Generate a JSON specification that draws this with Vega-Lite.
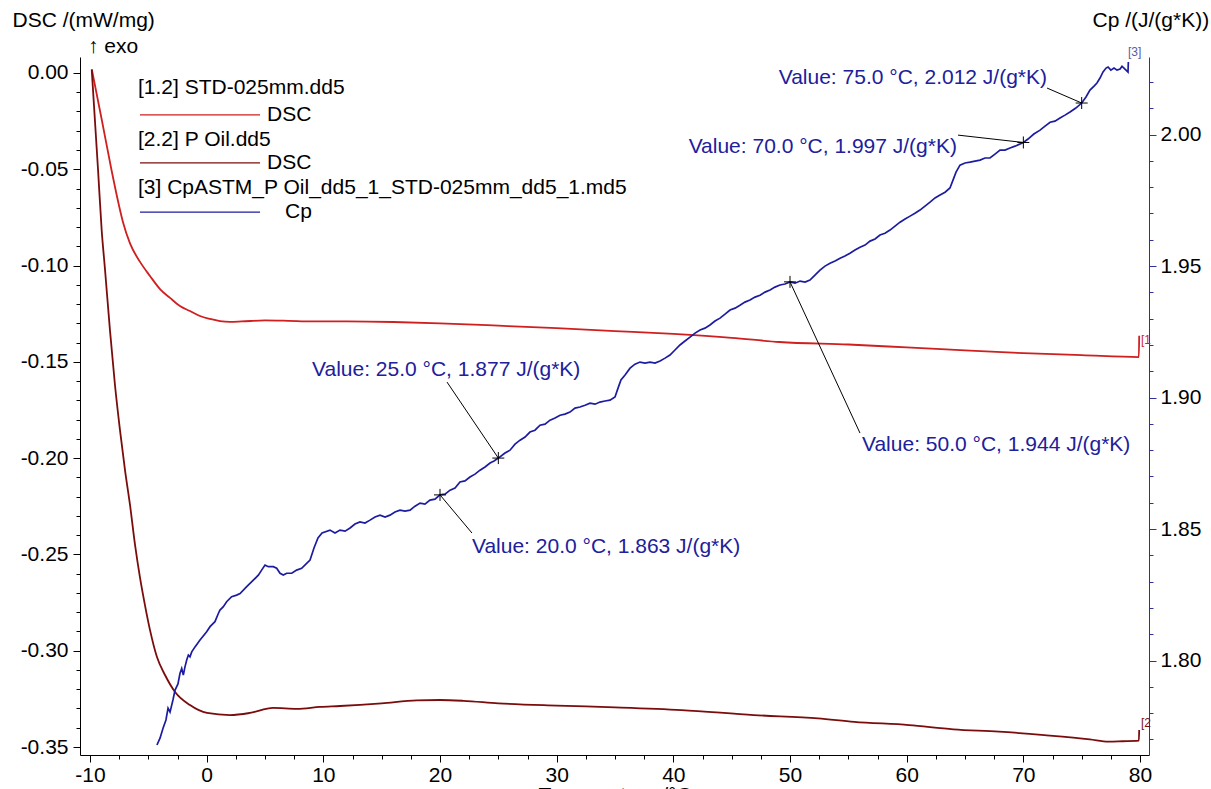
{
  "$schema": "https://vega.github.io/schema/vega-lite/v6.json",
  "width": 1069,
  "height": 698,
  "autosize": {"type": "none"},
  "padding": {"left": 80, "top": 57, "right": 62, "bottom": 34},
  "background": "white",
  "config": {
    "view": {"stroke": null},
    "font": "Liberation Sans",
    "axis": {"labelFont": "Liberation Sans", "labelFontSize": 21, "labelColor": "black", "titleFont": "Liberation Sans", "titleFontSize": 21, "titleFontWeight": "normal", "titleColor": "black", "grid": false, "domainColor": "black", "tickColor": "black", "labelOverlap": false, "labelFlush": false}
  },
  "datasets": {
    "dsc": [
      {"series": "STD", "t": -9.85, "v": 0.002}, {"series": "STD", "t": -9.0, "v": -0.024}, {"series": "STD", "t": -8.17, "v": -0.05}, {"series": "STD", "t": -7.6, "v": -0.0665}, {"series": "STD", "t": -7.17, "v": -0.0775}, {"series": "STD", "t": -6.57, "v": -0.0885}, {"series": "STD", "t": -5.71, "v": -0.0981}, {"series": "STD", "t": -4.86, "v": -0.1054}, {"series": "STD", "t": -4.0, "v": -0.1122}, {"series": "STD", "t": -3.14, "v": -0.1168}, {"series": "STD", "t": -2.29, "v": -0.121}, {"series": "STD", "t": -1.43, "v": -0.1236}, {"series": "STD", "t": -0.57, "v": -0.1262}, {"series": "STD", "t": 0.29, "v": -0.1277}, {"series": "STD", "t": 1.14, "v": -0.1288}, {"series": "STD", "t": 2.0, "v": -0.1292}, {"series": "STD", "t": 3.0, "v": -0.129}, {"series": "STD", "t": 5.0, "v": -0.1285}, {"series": "STD", "t": 7.0, "v": -0.1287}, {"series": "STD", "t": 9.0, "v": -0.129}, {"series": "STD", "t": 12.0, "v": -0.129}, {"series": "STD", "t": 16.0, "v": -0.1293}, {"series": "STD", "t": 20.0, "v": -0.13}, {"series": "STD", "t": 25.0, "v": -0.1312}, {"series": "STD", "t": 30.0, "v": -0.1325}, {"series": "STD", "t": 35.0, "v": -0.134}, {"series": "STD", "t": 40.0, "v": -0.1355}, {"series": "STD", "t": 45.0, "v": -0.1375}, {"series": "STD", "t": 49.1, "v": -0.1397}, {"series": "STD", "t": 55.0, "v": -0.141}, {"series": "STD", "t": 60.0, "v": -0.1425}, {"series": "STD", "t": 65.0, "v": -0.144}, {"series": "STD", "t": 70.0, "v": -0.1455}, {"series": "STD", "t": 75.0, "v": -0.1465}, {"series": "STD", "t": 79.9, "v": -0.1475}, {"series": "STD", "t": 79.93, "v": -0.1365},
      {"series": "POil", "t": -9.85, "v": 0.0016}, {"series": "POil", "t": -9.31, "v": -0.0504}, {"series": "POil", "t": -9.0, "v": -0.0815}, {"series": "POil", "t": -8.71, "v": -0.1023}, {"series": "POil", "t": -8.29, "v": -0.1335}, {"series": "POil", "t": -7.86, "v": -0.162}, {"series": "POil", "t": -7.43, "v": -0.1854}, {"series": "POil", "t": -7.0, "v": -0.2062}, {"series": "POil", "t": -6.57, "v": -0.2243}, {"series": "POil", "t": -6.14, "v": -0.2451}, {"series": "POil", "t": -5.71, "v": -0.2622}, {"series": "POil", "t": -5.29, "v": -0.2763}, {"series": "POil", "t": -4.86, "v": -0.2892}, {"series": "POil", "t": -4.26, "v": -0.3033}, {"series": "POil", "t": -3.57, "v": -0.3126}, {"series": "POil", "t": -2.71, "v": -0.3214}, {"series": "POil", "t": -1.43, "v": -0.3282}, {"series": "POil", "t": 0.03, "v": -0.3323}, {"series": "POil", "t": 2.0, "v": -0.3334}, {"series": "POil", "t": 3.71, "v": -0.3323}, {"series": "POil", "t": 5.69, "v": -0.3297}, {"series": "POil", "t": 7.74, "v": -0.3302}, {"series": "POil", "t": 9.71, "v": -0.3292}, {"series": "POil", "t": 11.43, "v": -0.3287}, {"series": "POil", "t": 15.0, "v": -0.3273}, {"series": "POil", "t": 18.0, "v": -0.3258}, {"series": "POil", "t": 20.0, "v": -0.3256}, {"series": "POil", "t": 22.0, "v": -0.326}, {"series": "POil", "t": 25.0, "v": -0.3273}, {"series": "POil", "t": 30.0, "v": -0.3285}, {"series": "POil", "t": 35.0, "v": -0.3294}, {"series": "POil", "t": 40.7, "v": -0.3308}, {"series": "POil", "t": 46.9, "v": -0.3334}, {"series": "POil", "t": 52.4, "v": -0.3351}, {"series": "POil", "t": 55.5, "v": -0.3369}, {"series": "POil", "t": 60.2, "v": -0.3386}, {"series": "POil", "t": 64.0, "v": -0.3408}, {"series": "POil", "t": 67.9, "v": -0.342}, {"series": "POil", "t": 71.8, "v": -0.3438}, {"series": "POil", "t": 75.7, "v": -0.346}, {"series": "POil", "t": 77.3, "v": -0.3472}, {"series": "POil", "t": 78.5, "v": -0.347}, {"series": "POil", "t": 79.9, "v": -0.3467}, {"series": "POil", "t": 79.93, "v": -0.3412}
    ],
    "cp": [
      {"t": -4.26, "v": 1.7679}, {"t": -4.0, "v": 1.7705}, {"t": -3.74, "v": 1.7743}, {"t": -3.49, "v": 1.7774}, {"t": -3.31, "v": 1.7819}, {"t": -3.14, "v": 1.7804}, {"t": -2.89, "v": 1.785}, {"t": -2.71, "v": 1.7888}, {"t": -2.46, "v": 1.7911}, {"t": -2.29, "v": 1.7951}, {"t": -2.14, "v": 1.797}, {"t": -2.0, "v": 1.7945}, {"t": -1.86, "v": 1.7976}, {"t": -1.71, "v": 1.8002}, {"t": -1.57, "v": 1.8021}, {"t": -1.43, "v": 1.8014}, {"t": -1.28, "v": 1.8033}, {"t": -1.0, "v": 1.8052}, {"t": -0.57, "v": 1.8078}, {"t": 0.0, "v": 1.811}, {"t": 0.29, "v": 1.8129}, {"t": 0.71, "v": 1.8148}, {"t": 1.0, "v": 1.8179}, {"t": 1.14, "v": 1.8192}, {"t": 1.43, "v": 1.8205}, {"t": 1.71, "v": 1.8224}, {"t": 2.14, "v": 1.8243}, {"t": 2.57, "v": 1.8249}, {"t": 2.86, "v": 1.8255}, {"t": 3.43, "v": 1.8281}, {"t": 4.0, "v": 1.8306}, {"t": 4.43, "v": 1.8325}, {"t": 4.71, "v": 1.8344}, {"t": 5.0, "v": 1.8363}, {"t": 5.29, "v": 1.8357}, {"t": 5.71, "v": 1.8357}, {"t": 6.0, "v": 1.8351}, {"t": 6.29, "v": 1.8332}, {"t": 6.57, "v": 1.8325}, {"t": 6.86, "v": 1.8332}, {"t": 7.29, "v": 1.8332}, {"t": 7.71, "v": 1.8344}, {"t": 8.14, "v": 1.8351}, {"t": 8.57, "v": 1.837}, {"t": 8.86, "v": 1.8382}, {"t": 9.2, "v": 1.8428}, {"t": 9.54, "v": 1.8466}, {"t": 9.89, "v": 1.8485}, {"t": 10.57, "v": 1.8496}, {"t": 11.0, "v": 1.8485}, {"t": 11.43, "v": 1.8496}, {"t": 11.86, "v": 1.8492}, {"t": 12.29, "v": 1.8504}, {"t": 12.71, "v": 1.8519}, {"t": 13.14, "v": 1.8527}, {"t": 13.57, "v": 1.8523}, {"t": 14.0, "v": 1.8534}, {"t": 14.43, "v": 1.8546}, {"t": 14.86, "v": 1.8553}, {"t": 15.29, "v": 1.8546}, {"t": 15.71, "v": 1.8553}, {"t": 16.14, "v": 1.8565}, {"t": 16.57, "v": 1.8572}, {"t": 17.0, "v": 1.8568}, {"t": 17.43, "v": 1.8572}, {"t": 17.86, "v": 1.8587}, {"t": 18.29, "v": 1.8599}, {"t": 18.71, "v": 1.8595}, {"t": 19.14, "v": 1.861}, {"t": 19.57, "v": 1.8614}, {"t": 20.0, "v": 1.863}, {"t": 20.43, "v": 1.8633}, {"t": 20.86, "v": 1.8648}, {"t": 21.29, "v": 1.8656}, {"t": 21.71, "v": 1.8679}, {"t": 22.14, "v": 1.8683}, {"t": 22.57, "v": 1.8698}, {"t": 23.0, "v": 1.8709}, {"t": 23.43, "v": 1.8724}, {"t": 23.86, "v": 1.8736}, {"t": 24.29, "v": 1.8751}, {"t": 24.63, "v": 1.8759}, {"t": 25.0, "v": 1.877}, {"t": 25.57, "v": 1.8789}, {"t": 26.0, "v": 1.88}, {"t": 26.43, "v": 1.8823}, {"t": 26.86, "v": 1.8838}, {"t": 27.29, "v": 1.885}, {"t": 27.71, "v": 1.8869}, {"t": 28.14, "v": 1.8876}, {"t": 28.57, "v": 1.8895}, {"t": 29.0, "v": 1.8899}, {"t": 29.43, "v": 1.8914}, {"t": 29.86, "v": 1.8922}, {"t": 30.29, "v": 1.8933}, {"t": 30.71, "v": 1.8937}, {"t": 31.14, "v": 1.8945}, {"t": 31.57, "v": 1.896}, {"t": 32.0, "v": 1.8964}, {"t": 32.43, "v": 1.8971}, {"t": 32.86, "v": 1.8979}, {"t": 33.29, "v": 1.8975}, {"t": 33.71, "v": 1.8983}, {"t": 34.14, "v": 1.8987}, {"t": 34.57, "v": 1.899}, {"t": 35.0, "v": 1.9002}, {"t": 35.26, "v": 1.9036}, {"t": 35.51, "v": 1.9067}, {"t": 35.86, "v": 1.9086}, {"t": 36.29, "v": 1.9112}, {"t": 36.71, "v": 1.9127}, {"t": 37.14, "v": 1.9135}, {"t": 37.57, "v": 1.9131}, {"t": 38.0, "v": 1.9135}, {"t": 38.43, "v": 1.9131}, {"t": 38.86, "v": 1.9139}, {"t": 39.29, "v": 1.915}, {"t": 39.71, "v": 1.9162}, {"t": 40.14, "v": 1.9181}, {"t": 40.57, "v": 1.92}, {"t": 41.0, "v": 1.9215}, {"t": 41.43, "v": 1.923}, {"t": 41.86, "v": 1.9245}, {"t": 42.29, "v": 1.9257}, {"t": 42.71, "v": 1.9264}, {"t": 43.14, "v": 1.9276}, {"t": 43.57, "v": 1.9291}, {"t": 44.0, "v": 1.9302}, {"t": 44.43, "v": 1.9317}, {"t": 44.86, "v": 1.9333}, {"t": 45.29, "v": 1.934}, {"t": 45.71, "v": 1.9351}, {"t": 46.14, "v": 1.9363}, {"t": 46.57, "v": 1.9371}, {"t": 47.0, "v": 1.9382}, {"t": 47.43, "v": 1.9389}, {"t": 47.86, "v": 1.9401}, {"t": 48.29, "v": 1.9409}, {"t": 48.71, "v": 1.942}, {"t": 49.14, "v": 1.9428}, {"t": 49.57, "v": 1.9432}, {"t": 50.0, "v": 1.944}, {"t": 50.43, "v": 1.9435}, {"t": 50.86, "v": 1.9443}, {"t": 51.29, "v": 1.9439}, {"t": 51.71, "v": 1.9447}, {"t": 52.14, "v": 1.9466}, {"t": 52.57, "v": 1.9485}, {"t": 53.0, "v": 1.95}, {"t": 53.43, "v": 1.9511}, {"t": 53.86, "v": 1.9519}, {"t": 54.29, "v": 1.953}, {"t": 54.71, "v": 1.9538}, {"t": 55.14, "v": 1.9549}, {"t": 55.57, "v": 1.9561}, {"t": 56.0, "v": 1.9572}, {"t": 56.43, "v": 1.958}, {"t": 56.86, "v": 1.9595}, {"t": 57.29, "v": 1.9603}, {"t": 57.71, "v": 1.9618}, {"t": 58.14, "v": 1.9625}, {"t": 58.57, "v": 1.9637}, {"t": 59.0, "v": 1.9652}, {"t": 59.43, "v": 1.9667}, {"t": 59.86, "v": 1.9679}, {"t": 60.29, "v": 1.969}, {"t": 60.71, "v": 1.9701}, {"t": 61.14, "v": 1.9713}, {"t": 61.57, "v": 1.9728}, {"t": 62.0, "v": 1.9743}, {"t": 62.43, "v": 1.9759}, {"t": 62.86, "v": 1.977}, {"t": 63.29, "v": 1.9781}, {"t": 63.71, "v": 1.9797}, {"t": 63.97, "v": 1.9827}, {"t": 64.23, "v": 1.9857}, {"t": 64.57, "v": 1.9884}, {"t": 65.0, "v": 1.9892}, {"t": 65.43, "v": 1.9895}, {"t": 65.86, "v": 1.9899}, {"t": 66.29, "v": 1.9903}, {"t": 66.71, "v": 1.9911}, {"t": 67.14, "v": 1.9911}, {"t": 67.57, "v": 1.9926}, {"t": 68.0, "v": 1.9941}, {"t": 68.43, "v": 1.9941}, {"t": 68.86, "v": 1.9949}, {"t": 69.29, "v": 1.9956}, {"t": 70.0, "v": 1.997}, {"t": 70.4, "v": 1.9983}, {"t": 70.9, "v": 2.0002}, {"t": 71.43, "v": 2.0017}, {"t": 71.86, "v": 2.0032}, {"t": 72.29, "v": 2.0047}, {"t": 72.71, "v": 2.0051}, {"t": 73.14, "v": 2.0063}, {"t": 73.57, "v": 2.0074}, {"t": 74.0, "v": 2.0086}, {"t": 74.5, "v": 2.0101}, {"t": 75.0, "v": 2.012}, {"t": 75.37, "v": 2.0143}, {"t": 75.71, "v": 2.0169}, {"t": 76.06, "v": 2.0184}, {"t": 76.31, "v": 2.0196}, {"t": 76.57, "v": 2.0215}, {"t": 76.83, "v": 2.0238}, {"t": 77.09, "v": 2.0253}, {"t": 77.26, "v": 2.0257}, {"t": 77.5, "v": 2.0245}, {"t": 77.77, "v": 2.0253}, {"t": 78.03, "v": 2.0245}, {"t": 78.29, "v": 2.0249}, {"t": 78.46, "v": 2.026}, {"t": 78.71, "v": 2.0249}, {"t": 78.97, "v": 2.0238}, {"t": 79.0, "v": 2.0276}
    ],
    "notes": [
      {"label": "Value: 75.0 °C, 2.012 J/(g*K)", "side": "end", "t": 75.0, "v": 2.012, "lt": 72.03, "lv": 2.0177, "tt": 72.03, "tv": 2.0215},
      {"label": "Value: 70.0 °C, 1.997 J/(g*K)", "side": "end", "t": 70.0, "v": 1.997, "lt": 64.4, "lv": 1.9998, "tt": 64.31, "tv": 1.9952},
      {"label": "Value: 50.0 °C, 1.944 J/(g*K)", "side": "start", "t": 50.0, "v": 1.944, "lt": 56.0, "lv": 1.8865, "tt": 56.17, "tv": 1.8819},
      {"label": "Value: 25.0 °C, 1.877 J/(g*K)", "side": "start", "t": 25.0, "v": 1.877, "lt": 20.6, "lv": 1.9059, "tt": 9.03, "tv": 1.9105},
      {"label": "Value: 20.0 °C, 1.863 J/(g*K)", "side": "start", "t": 20.0, "v": 1.863, "lt": 22.74, "lv": 1.8485, "tt": 22.74, "tv": 1.8432}
    ],
    "legendHeads": [
      {"label": "[1.2] STD-025mm.dd5", "t": -5.886, "v": -0.0078},
      {"label": "[2.2] P Oil.dd5", "t": -5.886, "v": -0.0348},
      {"label": "[3] CpASTM_P Oil_dd5_1_STD-025mm_dd5_1.md5", "t": -5.886, "v": -0.0597}
    ],
    "legendLines": [
      {"series": "STD", "sig": "DSC", "t": -5.714, "t2": 4.571, "ts": 5.171, "v": -0.0218},
      {"series": "POil", "sig": "DSC", "t": -5.714, "t2": 4.571, "ts": 5.171, "v": -0.0467},
      {"series": "Cp", "sig": "Cp", "t": -5.714, "t2": 4.571, "ts": 6.714, "v": -0.0722}
    ],
    "ends": [
      {"label": "[1", "series": "STD", "t": 80.08, "v": -0.1387},
      {"label": "[2", "series": "POil", "t": 80.08, "v": -0.3375}
    ],
    "extra": [
      {"label": "↑ exo", "t": -10.17, "v": 0.0135}
    ],
    "cpEnds": [
      {"label": "[3]", "t": 78.97, "v": 2.0314}
    ]
  },
  "layer": [
    {
      "data": {"name": "dsc"},
      "mark": {"type": "line", "strokeWidth": 1.8, "interpolate": "monotone"},
      "encoding": {
        "x": {"field": "t", "type": "quantitative", "scale": {"domain": [-10.857, 80.77], "nice": false, "zero": false},
          "axis": {"orient": "bottom", "values": [-10, 0, 10, 20, 30, 40, 50, 60, 70, 80], "format": "d", "tickSize": 7, "labelPadding": 2, "labelOverlap": false,
            "labelExpr": "replace(datum.label, '\u2212', '-')",
            "title": "Temperature /°C", "titleY": 46, "titleBaseline": "alphabetic"}},
        "y": {"field": "v", "type": "quantitative", "scale": {"domain": [-0.35415, 0.0083], "nice": false, "zero": false},
          "axis": {"orient": "left", "values": [-0.35, -0.3, -0.25, -0.2, -0.15, -0.1, -0.05, 0], "format": ".2f", "tickSize": 7, "labelPadding": 5, "labelOverlap": false,
            "labelExpr": "replace(datum.label, '\u2212', '-')",
            "title": "DSC /(mW/mg)", "titleAngle": 0, "titleAlign": "left", "titleBaseline": "middle", "titleX": -68, "titleY": -37}},
        "color": {"field": "series", "type": "nominal", "scale": {"domain": ["STD", "POil", "Cp"], "range": ["#d01f1f", "#7a0c0c", "#1c1ca0"]}, "legend": null}
      }
    },
    {
      "data": {"name": "legendHeads"},
      "mark": {"type": "text", "align": "left", "baseline": "middle", "fontSize": 21, "color": "black"},
      "encoding": {
        "x": {"field": "t", "type": "quantitative", "scale": {"domain": [-10.857, 80.77], "nice": false, "zero": false},
          "axis": {"orient": "bottom", "values": [-10, -7.5, -5, -2.5, 0, 2.5, 5, 7.5, 10, 12.5, 15, 17.5, 20, 22.5, 25, 27.5, 30, 32.5, 35, 37.5, 40, 42.5, 45, 47.5, 50, 52.5, 55, 57.5, 60, 62.5, 65, 67.5, 70, 72.5, 75, 77.5, 80], "tickSize": 4, "labels": false, "domain": false, "title": null}},
        "y": {"field": "v", "type": "quantitative", "scale": {"domain": [-0.35415, 0.0083], "nice": false, "zero": false},
          "axis": {"orient": "left", "values": [-0.35, -0.34, -0.33, -0.32, -0.31, -0.3, -0.29, -0.28, -0.27, -0.26, -0.25, -0.24, -0.23, -0.22, -0.21, -0.2, -0.19, -0.18, -0.17, -0.16, -0.15, -0.14, -0.13, -0.12, -0.11, -0.1, -0.09, -0.08, -0.07, -0.06, -0.05, -0.04, -0.03, -0.02, -0.01, 0], "tickSize": 4, "labels": false, "domain": false, "title": null}},
        "text": {"field": "label"}
      }
    },
    {
      "data": {"name": "legendLines"},
      "mark": {"type": "rule", "strokeWidth": 1.2},
      "encoding": {
        "x": {"field": "t", "type": "quantitative", "scale": {"domain": [-10.857, 80.77], "nice": false, "zero": false}, "axis": null},
        "x2": {"field": "t2"},
        "y": {"field": "v", "type": "quantitative", "scale": {"domain": [-0.35415, 0.0083], "nice": false, "zero": false}, "axis": null},
        "color": {"field": "series", "type": "nominal", "scale": {"domain": ["STD", "POil", "Cp"], "range": ["#d01f1f", "#7a0c0c", "#1c1ca0"]}, "legend": null}
      }
    },
    {
      "data": {"name": "legendLines"},
      "mark": {"type": "text", "align": "left", "baseline": "middle", "fontSize": 21, "color": "black"},
      "encoding": {
        "x": {"field": "ts", "type": "quantitative", "scale": {"domain": [-10.857, 80.77], "nice": false, "zero": false}, "axis": null},
        "y": {"field": "v", "type": "quantitative", "scale": {"domain": [-0.35415, 0.0083], "nice": false, "zero": false}, "axis": null},
        "text": {"field": "sig"}
      }
    },
    {
      "data": {"name": "extra"},
      "mark": {"type": "text", "align": "left", "baseline": "middle", "fontSize": 21, "color": "black"},
      "encoding": {
        "x": {"field": "t", "type": "quantitative", "scale": {"domain": [-10.857, 80.77], "nice": false, "zero": false}, "axis": null},
        "y": {"field": "v", "type": "quantitative", "scale": {"domain": [-0.35415, 0.0083], "nice": false, "zero": false}, "axis": null},
        "text": {"field": "label"}
      }
    },
    {
      "data": {"name": "ends"},
      "mark": {"type": "text", "align": "left", "baseline": "middle", "fontSize": 12},
      "encoding": {
        "x": {"field": "t", "type": "quantitative", "scale": {"domain": [-10.857, 80.77], "nice": false, "zero": false}, "axis": null},
        "y": {"field": "v", "type": "quantitative", "scale": {"domain": [-0.35415, 0.0083], "nice": false, "zero": false}, "axis": null},
        "text": {"field": "label"},
        "color": {"field": "series", "type": "nominal", "scale": {"domain": ["STD", "POil", "Cp"], "range": ["#d01f1f", "#7a0c0c", "#1c1ca0"]}, "legend": null}
      }
    },
    {
      "data": {"name": "cp"},
      "mark": {"type": "line", "strokeWidth": 1.7, "color": "#1c1ca0"},
      "encoding": {
        "x": {"field": "t", "type": "quantitative", "scale": {"domain": [-10.857, 80.77], "nice": false, "zero": false}, "axis": null},
        "y": {"field": "v", "type": "quantitative", "scale": {"domain": [1.7641, 2.0295], "nice": false, "zero": false},
          "axis": {"orient": "right", "values": [1.8, 1.85, 1.9, 1.95, 2.0], "format": ".2f", "tickSize": 7, "labelPadding": 4, "labelOverlap": false,
            "domainColor": "#30309a", "tickColor": "#30309a",
            "title": "Cp /(J/(g*K))", "titleAngle": 0, "titleAlign": "left", "titleBaseline": "middle", "titleX": -57, "titleY": -37}}
      }
    },
    {
      "data": {"name": "notes"},
      "mark": {"type": "rule", "strokeWidth": 1, "color": "black"},
      "encoding": {
        "x": {"field": "t", "type": "quantitative", "scale": {"domain": [-10.857, 80.77], "nice": false, "zero": false}, "axis": null},
        "x2": {"field": "lt"},
        "y": {"field": "v", "type": "quantitative", "scale": {"domain": [1.7641, 2.0295], "nice": false, "zero": false},
          "axis": {"orient": "right", "values": [1.77, 1.78, 1.79, 1.8, 1.81, 1.82, 1.83, 1.84, 1.85, 1.86, 1.87, 1.88, 1.89, 1.9, 1.91, 1.92, 1.93, 1.94, 1.95, 1.96, 1.97, 1.98, 1.99, 2.0, 2.01, 2.02], "tickSize": 4, "labels": false, "domain": false, "title": null, "tickColor": "#30309a"}},
        "y2": {"field": "lv"}
      }
    },
    {
      "data": {"name": "notes"},
      "mark": {"type": "point", "shape": "M-1,0L1,0M0,-1L0,1", "filled": false, "stroke": "black", "strokeWidth": 1, "size": 144, "opacity": 1},
      "encoding": {
        "x": {"field": "t", "type": "quantitative", "scale": {"domain": [-10.857, 80.77], "nice": false, "zero": false}, "axis": null},
        "y": {"field": "v", "type": "quantitative", "scale": {"domain": [1.7641, 2.0295], "nice": false, "zero": false}, "axis": null}
      }
    },
    {
      "data": {"name": "notes"},
      "transform": [{"filter": "datum.side == 'end'"}],
      "mark": {"type": "text", "align": "right", "baseline": "middle", "fontSize": 21, "color": "#20209c"},
      "encoding": {
        "x": {"field": "tt", "type": "quantitative", "scale": {"domain": [-10.857, 80.77], "nice": false, "zero": false}, "axis": null},
        "y": {"field": "tv", "type": "quantitative", "scale": {"domain": [1.7641, 2.0295], "nice": false, "zero": false}, "axis": null},
        "text": {"field": "label"}
      }
    },
    {
      "data": {"name": "notes"},
      "transform": [{"filter": "datum.side == 'start'"}],
      "mark": {"type": "text", "align": "left", "baseline": "middle", "fontSize": 21, "color": "#20209c"},
      "encoding": {
        "x": {"field": "tt", "type": "quantitative", "scale": {"domain": [-10.857, 80.77], "nice": false, "zero": false}, "axis": null},
        "y": {"field": "tv", "type": "quantitative", "scale": {"domain": [1.7641, 2.0295], "nice": false, "zero": false}, "axis": null},
        "text": {"field": "label"}
      }
    },
    {
      "data": {"name": "cpEnds"},
      "mark": {"type": "text", "align": "left", "baseline": "middle", "fontSize": 12, "color": "#5a5aa0"},
      "encoding": {
        "x": {"field": "t", "type": "quantitative", "scale": {"domain": [-10.857, 80.77], "nice": false, "zero": false}, "axis": null},
        "y": {"field": "v", "type": "quantitative", "scale": {"domain": [1.7641, 2.0295], "nice": false, "zero": false}, "axis": null},
        "text": {"field": "label"}
      }
    }
  ],
  "resolve": {"scale": {"y": "independent"}, "axis": {"x": "independent", "y": "independent"}}
}
